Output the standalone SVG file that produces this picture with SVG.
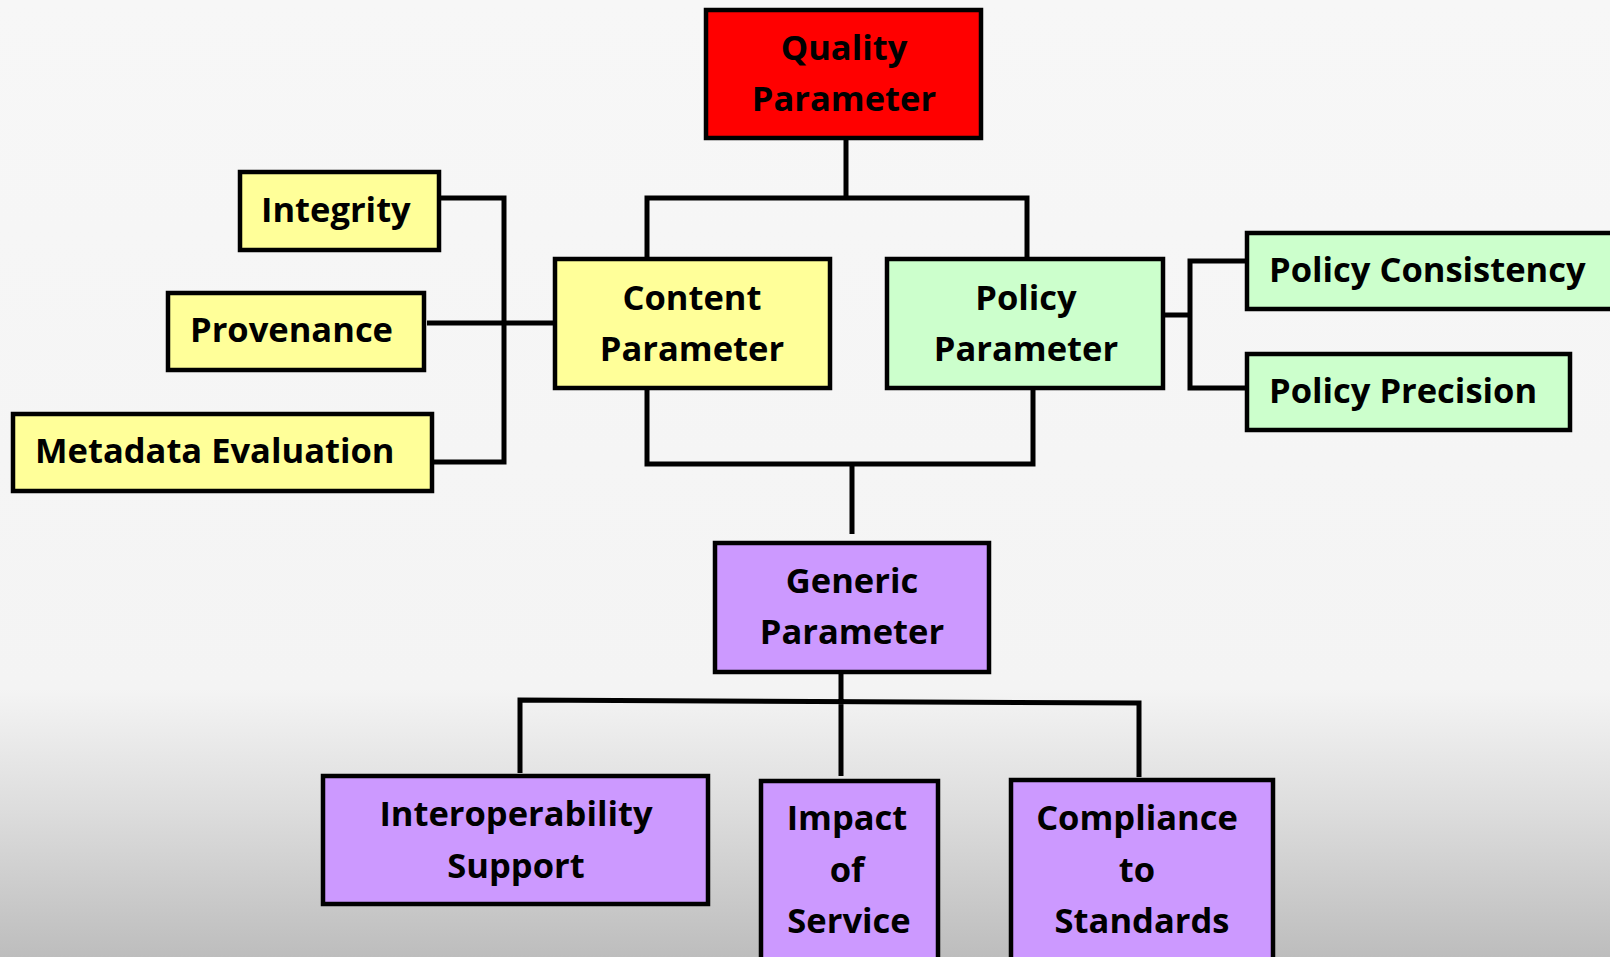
<svg xmlns="http://www.w3.org/2000/svg" width="1610" height="957" viewBox="0 0 1610 957">
<defs>
<linearGradient id="bg" x1="0" y1="0" x2="0" y2="1">
<stop offset="0" stop-color="#f7f7f7"/>
<stop offset="0.72" stop-color="#f4f4f4"/>
<stop offset="0.85" stop-color="#dcdcdc"/>
<stop offset="1" stop-color="#bdbdbd"/>
</linearGradient>
</defs>
<style>
.box{stroke:#000;stroke-width:4.5}
.red{fill:#ff0000}
.yel{fill:#ffff99}
.grn{fill:#ccffcc}
.pur{fill:#cc99ff}
text{font-family:"Open Sans","Liberation Sans",sans-serif;font-weight:bold;font-size:34.5px;fill:#000}
.c{text-anchor:middle}
#connectors path{fill:none;stroke:#000;stroke-width:5}
</style>
<rect width="1610" height="957" fill="url(#bg)"/>
<g id="connectors">
<path d="M846 138V198M647 258V198H1027V259"/>
<path d="M430 198H504V462H432M427 323H555"/>
<path d="M647 389V464H1033V389M852 464V534"/>
<path d="M1163 315H1190M1247 261H1190V388H1247"/>
<path d="M841 672V776M520 773V700L1139 703V777"/>
</g>
<g id="quality"><rect class="box red" x="706" y="10" width="275" height="128"/><text class="c" x="844" y="60">Quality</text><text class="c" x="844" y="111">Parameter</text></g>
<g id="integrity"><rect class="box yel" x="240" y="172" width="199" height="78"/><text x="261" y="222">Integrity</text></g>
<g id="provenance"><rect class="box yel" x="168" y="293" width="256" height="77"/><text x="190" y="342">Provenance</text></g>
<g id="metadata"><rect class="box yel" x="13" y="414" width="419" height="77"/><text x="35" y="463">Metadata Evaluation</text></g>
<g id="content"><rect class="box yel" x="555" y="259" width="275" height="129"/><text class="c" x="692" y="310">Content</text><text class="c" x="692" y="361">Parameter</text></g>
<g id="policy"><rect class="box grn" x="887" y="259" width="276" height="129"/><text class="c" x="1026" y="310">Policy</text><text class="c" x="1026" y="361">Parameter</text></g>
<g id="policyConsistency"><rect class="box grn" x="1247" y="233" width="380" height="76"/><text x="1269" y="282">Policy Consistency</text></g>
<g id="policyPrecision"><rect class="box grn" x="1247" y="354" width="323" height="76"/><text x="1269" y="403">Policy Precision</text></g>
<g id="generic"><rect class="box pur" x="715" y="543" width="274" height="129"/><text class="c" x="852" y="593">Generic</text><text class="c" x="852" y="644">Parameter</text></g>
<g id="interop"><rect class="box pur" x="323" y="776" width="385" height="128"/><text class="c" x="516" y="826">Interoperability</text><text class="c" x="516" y="878">Support</text></g>
<g id="impact"><rect class="box pur" x="761" y="781" width="177" height="190"/><text class="c" x="847" y="830">Impact</text><text class="c" x="847" y="882">of</text><text class="c" x="849" y="933">Service</text></g>
<g id="compliance"><rect class="box pur" x="1011" y="780" width="262" height="190"/><text class="c" x="1137" y="830">Compliance</text><text class="c" x="1137" y="882">to</text><text class="c" x="1142" y="933">Standards</text></g>
</svg>
